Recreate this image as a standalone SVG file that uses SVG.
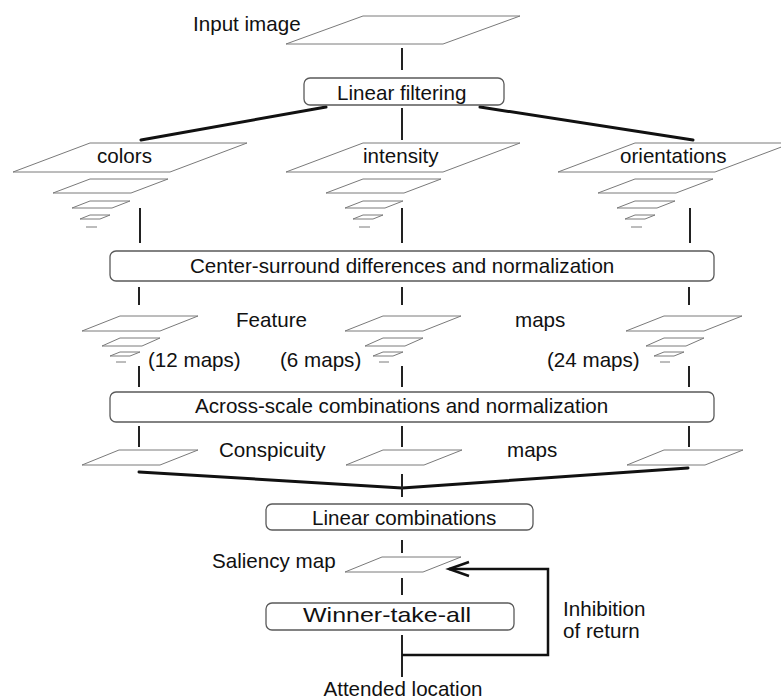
<svg xmlns="http://www.w3.org/2000/svg" width="781" height="699" viewBox="0 0 781 699">
<style>
.t{font-family:"Liberation Sans",Arial,Helvetica,sans-serif;font-size:20.6px;fill:#111}
.m{text-anchor:middle}
.pl polygon{fill:#fff;stroke:#7a7a7a;stroke-width:1}
.pl line{stroke:#7a7a7a;stroke-width:1}
.box{fill:#fff;stroke:#5a5a5a;stroke-width:1.3}
.c{stroke:#222;stroke-width:2;fill:none}
.k{stroke:#111;stroke-width:3;fill:none;stroke-linecap:round}
</style>
<defs>
<g id="pyr5" class="pl">
<polygon points="0,0 157,0 80,29 -77,29"/>
<polygon points="0,36 78,36 41,50 -37,50"/>
<polygon points="0,58 40,58 22,65 -18,65"/>
<polygon points="0,72 20,72 10,76 -10,76"/>
<line x1="-4" y1="84" x2="7" y2="84"/>
</g>
<g id="pyr4" class="pl">
<polygon points="0,0 78,0 40,15 -38,15"/>
<polygon points="0,22 40,22 22,30 -18,30"/>
<polygon points="0,36 20,36 10,40 -10,40"/>
<line x1="-4" y1="46" x2="6" y2="46"/>
</g>
<g id="plane1" class="pl"><polygon points="0,0 157,0 80,28 -77,28"/></g>
<g id="plane2" class="pl"><polygon points="0,0 79,0 41,15 -37,15"/></g>
<marker id="arr" markerUnits="userSpaceOnUse" markerWidth="30" markerHeight="20" refX="0" refY="0" orient="auto" overflow="visible">
<path d="M-20,-7 L0,0 L-20,7" fill="none" stroke="#111" stroke-width="2.5"/>
</marker>
</defs>
<rect width="781" height="699" fill="#fff"/>

<g id="connectors">
<line class="c" x1="402" y1="48" x2="402" y2="70"/>
<line class="c" x1="402" y1="108" x2="402" y2="140"/>
<line class="k" x1="326" y1="107" x2="141" y2="140"/>
<line class="k" x1="480" y1="107" x2="693" y2="140"/>
<line class="c" x1="140" y1="208" x2="140" y2="243"/>
<line class="c" x1="402" y1="208" x2="402" y2="243"/>
<line class="c" x1="690" y1="208" x2="690" y2="243"/>
<line class="c" x1="139" y1="287" x2="139" y2="305"/>
<line class="c" x1="402" y1="287" x2="402" y2="305"/>
<line class="c" x1="689" y1="287" x2="689" y2="305"/>
<line class="c" x1="139" y1="366" x2="139" y2="387"/>
<line class="c" x1="402" y1="366" x2="402" y2="387"/>
<line class="c" x1="689" y1="366" x2="689" y2="387"/>
<line class="c" x1="139" y1="426" x2="139" y2="447"/>
<line class="c" x1="402" y1="426" x2="402" y2="447"/>
<line class="c" x1="689" y1="426" x2="689" y2="447"/>
<polyline class="k" points="139,472 402,488 688,468"/>
<line class="c" x1="402" y1="474" x2="402" y2="497"/>
<line class="c" x1="402" y1="540" x2="402" y2="553"/>
<line class="c" x1="402" y1="578" x2="402" y2="595"/>
<line class="c" x1="402" y1="635" x2="402" y2="677"/>
<path d="M402,655 H548 V569 H449" fill="none" stroke="#111" stroke-width="2.5" marker-end="url(#arr)"/>
</g>

<g id="input-image">
<use href="#plane1" x="363" y="16"/>
<text class="t" x="193" y="31">Input image</text>
</g>
<g id="linear-filtering">
<rect class="box" x="304" y="78" width="200" height="27" rx="6"/>
<text class="t" x="337" y="100">Linear filtering</text>
</g>
<g id="colors">
<use href="#pyr5" x="90" y="143"/>
<text class="t" x="97" y="163">colors</text>
</g>
<g id="intensity">
<use href="#pyr5" x="363" y="143"/>
<text class="t" x="363" y="163">intensity</text>
</g>
<g id="orientations">
<use href="#pyr5" x="635" y="143"/>
<text class="t" x="620" y="163">orientations</text>
</g>
<g id="center-surround">
<rect class="box" x="110" y="251" width="604" height="30" rx="6"/>
<text class="t" x="190" y="273">Center-surround differences and normalization</text>
</g>
<g id="feature-colors">
<use href="#pyr4" x="120" y="316"/>
<text class="t" x="148" y="367">(12 maps)</text>
</g>
<g id="feature-intensity">
<use href="#pyr4" x="383" y="316"/>
<text class="t" x="280" y="367">(6 maps)</text>
</g>
<g id="feature-orientations">
<use href="#pyr4" x="664" y="316"/>
<text class="t" x="547" y="367">(24 maps)</text>
</g>
<g id="feature-label">
<text class="t" x="236" y="327">Feature</text>
<text class="t" x="515" y="327">maps</text>
</g>
<g id="across-scale">
<rect class="box" x="110" y="392" width="604" height="30" rx="6"/>
<text class="t" x="195" y="413">Across-scale combinations and normalization</text>
</g>
<g id="conspicuity-colors"><use href="#plane2" x="119" y="450"/></g>
<g id="conspicuity-intensity"><use href="#plane2" x="383" y="450"/></g>
<g id="conspicuity-orientations"><use href="#plane2" x="664" y="450"/></g>
<g id="conspicuity-label">
<text class="t" x="219" y="457">Conspicuity</text>
<text class="t" x="507" y="457">maps</text>
</g>
<g id="linear-combinations">
<rect class="box" x="266" y="504" width="267" height="26" rx="6"/>
<text class="t" x="312" y="525">Linear combinations</text>
</g>
<g id="saliency-map">
<use href="#plane2" x="382" y="557"/>
<text class="t" x="212" y="568">Saliency map</text>
</g>
<g id="winner-take-all">
<rect class="box" x="266" y="603" width="248" height="27" rx="6"/>
<text class="t" x="303" y="622" textLength="168" lengthAdjust="spacingAndGlyphs">Winner-take-all</text>
</g>
<g id="inhibition-label">
<text class="t" x="563" y="616">Inhibition</text>
<text class="t" x="563" y="638">of return</text>
</g>
<g id="attended-location">
<text class="t m" x="403" y="696">Attended location</text>
</g>
</svg>
